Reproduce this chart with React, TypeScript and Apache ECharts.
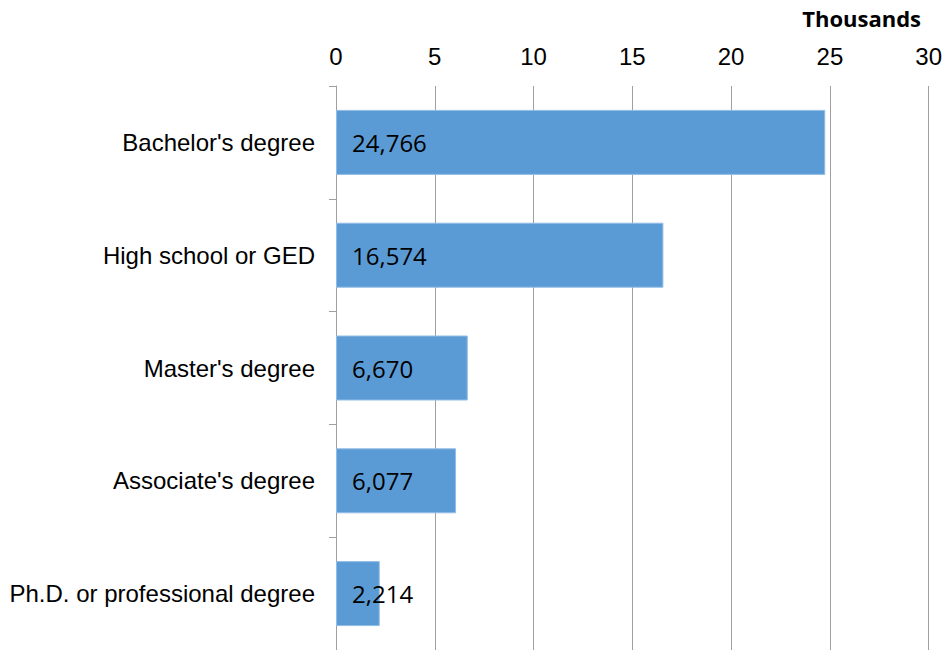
import React, { useEffect, useRef } from "react";
import * as echarts from "echarts";

const categories = [
  "Bachelor's degree",
  "High school or GED",
  "Master's degree",
  "Associate's degree",
  "Ph.D. or professional degree",
];
const values = [24766, 16574, 6670, 6077, 2214];
const unitLabel = "Thousands";

export default function App() {
  const ref = useRef<HTMLDivElement>(null);
  useEffect(() => {
    if (!ref.current) return;
    const chart = echarts.init(ref.current, null, { renderer: "svg" });
    chart.setOption({
      animation: false,
      backgroundColor: "#ffffff",
      grid: { left: 336, right: 16, top: 86, height: 565, containLabel: false },
      graphic: [
        {
          type: "text",
          right: 24,
          top: 7,
          style: {
            text: unitLabel,
            font: "bold 22px 'Open Sans', sans-serif",
            fill: "#000",
          },
        },
      ],
      xAxis: {
        type: "value",
        position: "top",
        min: 0,
        max: 30000,
        interval: 5000,
        axisLine: { show: false },
        axisTick: { show: false },
        axisLabel: {
          formatter: (v: number) => String(v / 1000),
          color: "#000",
          fontFamily: "Arial",
          fontSize: 24,
          margin: 18,
        },
        splitLine: { show: true, lineStyle: { color: "#a0a0a0", width: 1 } },
      },
      yAxis: {
        type: "category",
        data: categories,
        inverse: true,
        axisLine: { show: true, lineStyle: { color: "#a0a0a0", width: 1 } },
        axisTick: { show: true, length: 7, lineStyle: { color: "#a0a0a0" } },
        axisLabel: {
          color: "#000",
          fontFamily: "Arial",
          fontSize: 24,
          margin: 21,
        },
      },
      series: [
        {
          type: "bar",
          data: values,
          barWidth: 65,
          itemStyle: { color: "#5b9bd5", borderColor: "#93bde6", borderWidth: 1 },
          label: {
            show: true,
            position: "insideLeft",
            distance: 16,
            color: "#000",
            fontFamily: "'Open Sans', sans-serif",
            fontSize: 24,
            formatter: (p: any) => Number(p.value).toLocaleString("en-US"),
          },
        },
      ],
    });
    return () => chart.dispose();
  }, []);
  return (
    <div
      ref={ref}
      style={{ position: "fixed", left: 0, top: 0, width: 945, height: 650 }}
    />
  );
}
